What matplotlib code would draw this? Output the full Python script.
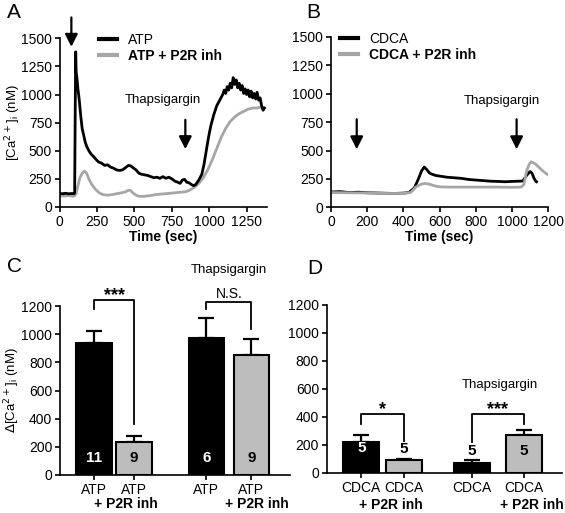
import numpy as np
import matplotlib
matplotlib.use("Agg")
import matplotlib.pyplot as plt
import matplotlib.transforms as mtransforms

plt.rcParams['font.family'] = ['Liberation Sans', 'DejaVu Sans']
plt.rcParams['font.size'] = 10
plt.rcParams['axes.linewidth'] = 1.2
plt.rcParams['xtick.major.width'] = 1.2
plt.rcParams['ytick.major.width'] = 1.2
plt.rcParams['xtick.major.size'] = 3.5
plt.rcParams['ytick.major.size'] = 3.5

# ---- panel A traces (time in sec, [Ca2+]i in nM) ----
atp_t = [0, 20, 40, 60, 80, 95, 100, 104, 107, 110, 115, 122, 130, 140, 150, 160, 170, 180,
         195, 210, 225, 245, 260, 280, 300, 320, 340, 360, 380, 400, 420, 440, 460, 475, 490,
         510, 530, 550, 570, 590, 610, 630, 650, 670, 690, 710, 730, 750, 770, 790, 805, 820,
         835, 850, 865, 880, 895, 910, 930, 950, 965, 980, 995, 1010, 1030, 1050, 1070, 1090,
         1100, 1110, 1120, 1130, 1140, 1150, 1160, 1170, 1180, 1190, 1200, 1210, 1220, 1230,
         1240, 1250, 1260, 1270, 1280, 1290, 1300, 1310, 1320, 1330, 1340, 1350, 1360, 1368]
atp_v = [120, 118, 122, 117, 120, 118, 125, 900, 1380, 1200, 1150, 1050, 960, 820, 700, 640,
         580, 540, 500, 470, 450, 420, 400, 390, 370, 375, 355, 345, 330, 325, 330, 350, 370,
         365, 350, 330, 300, 290, 285, 280, 270, 260, 265, 255, 270, 255, 265, 250, 230, 220,
         210, 240, 245, 220, 215, 200, 190, 200, 240, 290, 380, 500, 620, 720, 820, 900, 950,
         1000, 1040, 1010, 1070, 1040, 1100, 1060, 1150, 1090, 1130, 1060, 1100, 1040, 1080,
         1010, 1050, 1000, 1040, 980, 1030, 970, 1010, 960, 1020, 950, 970, 900, 860, 880]

atp_inh_t = [0, 30, 60, 90, 100, 110, 120, 135, 150, 165, 180, 195, 210, 225, 245, 265, 290,
             320, 350, 380, 410, 440, 460, 475, 490, 510, 530, 560, 600, 640, 680, 720, 760,
             800, 840, 870, 900, 930, 960, 990, 1020, 1050, 1080, 1110, 1140, 1170, 1200, 1230,
             1260, 1290, 1320, 1345, 1360, 1370]
atp_inh_v = [100, 98, 102, 95, 100, 120, 180, 260, 300, 320, 300, 250, 210, 180, 150, 125,
             110, 105, 110, 118, 125, 135, 150, 145, 125, 105, 95, 95, 100, 110, 115, 120, 125,
             130, 135, 150, 175, 210, 260, 330, 420, 520, 620, 700, 760, 800, 830, 850, 870,
             880, 880, 890, 870, 880]

# ---- panel B traces ----
cdca_t = [0, 50, 100, 150, 200, 250, 300, 350, 400, 430, 460, 480, 500, 515, 530, 545, 560,
          580, 600, 640, 680, 720, 760, 800, 840, 880, 920, 960, 1000, 1040, 1060, 1075, 1090,
          1100, 1110, 1120, 1130, 1135]
cdca_v = [135, 138, 130, 133, 128, 126, 124, 122, 125, 130, 170, 240, 320, 355, 330, 300,
          290, 280, 275, 265, 260, 255, 245, 240, 235, 230, 228, 225, 228, 230, 232, 270, 300,
          315, 300, 260, 230, 225]

cdca_inh_t = [0, 100, 200, 300, 400, 440, 470, 500, 520, 540, 570, 600, 650, 700, 800, 900,
              1000, 1050, 1065, 1080, 1095, 1105, 1115, 1130, 1150, 1170, 1190, 1200]
cdca_inh_v = [130, 128, 126, 122, 122, 130, 180, 205, 210, 205, 190, 180, 178, 178, 178, 178,
              176, 178, 200, 320, 380, 400, 395, 380, 350, 320, 295, 285]

# ---- panel C / D bars ----
c_labels = ['ATP', 'ATP', 'ATP', 'ATP']
c_vals = [940, 235, 975, 850]
c_err = [85, 40, 140, 115]
c_n = ['11', '9', '6', '9']

d_labels = ['CDCA', 'CDCA', 'CDCA', 'CDCA']
d_vals = [220, 90, 75, 275]
d_err = [50, 12, 15, 30]
d_n = ['5', '5', '5', '5']

black = '#000000'
grey_line = '#a6a6a6'
grey_bar = '#bdbdbd'

fig = plt.figure(figsize=(5.65, 5.13), dpi=100)
W, H = 565.0, 513.0


def px_axes(l, r, b, t):
    return fig.add_axes([l / W, (H - b) / H, (r - l) / W, (b - t) / H])


def style(ax):
    ax.spines['top'].set_visible(False)
    ax.spines['right'].set_visible(False)
    ax.tick_params(direction='out', labelsize=10, pad=2)


arrow = dict(arrowstyle='-|>,head_width=0.38,head_length=0.75', color='k', lw=1.6)

# ================= A =================
axA = px_axes(59.7, 267.3, 207, 38.3)
style(axA)
axA.plot(atp_inh_t, atp_inh_v, color=grey_line, lw=2, label='ATP + P2R inh')
axA.plot(atp_t, atp_v, color=black, lw=2, label='ATP')
axA.set_xlim(0, 1388)
axA.set_ylim(0, 1500)
axA.set_xticks(np.arange(0, 1251, 250))
axA.set_yticks(np.arange(0, 1501, 250))
axA.set_xlabel('Time (sec)', fontweight='bold', labelpad=1)
axA.set_ylabel('[Ca$^{2+}$]$_{\\mathregular{i}}$ (nM)', fontsize=9.5)
axA.yaxis.set_label_coords(-0.178, 0.5)
h, l = axA.get_legend_handles_labels()
leg = axA.legend(h[::-1], l[::-1], loc='upper left', bbox_to_anchor=(0.19, 1.03),
                 frameon=False, handlelength=1.3, handletextpad=0.8, labelspacing=0.15,
                 borderpad=0, borderaxespad=0, fontsize=10)
for line in leg.get_lines():
    line.set_linewidth(3)
leg.get_texts()[1].set_fontweight('bold')
axA.annotate('', xy=(78, 1400), xytext=(78, 1710), annotation_clip=False, arrowprops=arrow)
axA.annotate('', xy=(840, 490), xytext=(840, 800), arrowprops=arrow)
axA.text(690, 950, 'Thapsigargin', ha='center', va='center', fontsize=9.5)

# ================= B =================
axB = px_axes(331, 548.3, 207.3, 37)
style(axB)
axB.plot(cdca_t, cdca_v, color=black, lw=2, label='CDCA')
axB.plot(cdca_inh_t, cdca_inh_v, color=grey_line, lw=2, label='CDCA + P2R inh')
axB.set_xlim(0, 1200)
axB.set_ylim(0, 1500)
axB.set_xticks(np.arange(0, 1201, 200))
axB.set_yticks(np.arange(0, 1501, 250))
axB.set_xlabel('Time (sec)', fontweight='bold', labelpad=1)
leg = axB.legend(loc='upper left', bbox_to_anchor=(0.04, 1.03),
                 frameon=False, handlelength=1.3, handletextpad=0.8, labelspacing=0.15,
                 borderpad=0, borderaxespad=0, fontsize=10)
for line in leg.get_lines():
    line.set_linewidth(3)
leg.get_texts()[1].set_fontweight('bold')
for t in [142, 1025]:
    axB.annotate('', xy=(t, 487), xytext=(t, 800), arrowprops=arrow)
axB.text(943, 940, 'Thapsigargin', ha='center', va='center', fontsize=9.5)


# ================= C / D =================
def bars(ax, pos, vals, err, labels, n, n_y, n_col, sub_dx, sub_y, width):
    cols = [black, grey_bar, black, grey_bar]
    ax.bar(pos, vals, width=width, color=cols, edgecolor='k', linewidth=1.5, zorder=2)
    ax.errorbar(pos, vals, yerr=[[0] * len(vals), err], fmt='none', ecolor='k',
                elinewidth=1.6, capsize=6, capthick=1.6, zorder=1)
    ax.set_xticks(pos)
    ax.set_xticklabels(labels, fontsize=10)
    trans = mtransforms.blended_transform_factory(ax.transData, ax.transAxes)
    for i in (1, 3):
        ax.text(pos[i] + sub_dx[i], sub_y, '+ P2R inh', transform=trans, ha='center',
                va='center', fontsize=10, fontweight='bold')
    for p, s, y, c in zip(pos, n, n_y, n_col):
        ax.text(p, y, s, ha='center', va='center', color=c, fontsize=11, fontweight='bold', zorder=3)
    ax.set_ylim(0, 1200)
    ax.set_yticks(np.arange(0, 1201, 200))


def bracket(ax, x1, x2, top, y1, y2, label, ly, size=13, weight='bold'):
    ax.plot([x1, x1, x2, x2], [y1, top, top, y2], color='k', lw=1.3, clip_on=False)
    ax.text((x1 + x2) / 2, ly, label, ha='center', va='center', fontsize=size,
            fontweight=weight, clip_on=False)


c_pos = [34.2, 73.8, 146.3, 191.3]
axC = px_axes(60, 290, 475, 306)
style(axC)
bars(axC, c_pos, c_vals, c_err, c_labels, c_n, [120] * 4, ['w', 'k', 'w', 'k'],
     [0, -8, 0, 6], -0.172, 35.5)
axC.set_xlim(0, 230)
axC.set_ylabel('$\\Delta$[Ca$^{2+}$]$_{\\mathregular{i}}$ (nM)', fontsize=9.5)
axC.yaxis.set_label_coords(-0.165, 0.5)
bracket(axC, c_pos[0], c_pos[1], 1242, 1176, 364, '***', 1275)
bracket(axC, c_pos[2], c_pos[3], 1231, 1176, 1037, 'N.S.', 1285, size=10, weight='normal')
axC.text((c_pos[2] + c_pos[3]) / 2, 1455, 'Thapsigargin', ha='center', va='center', fontsize=9.5)

d_pos = [34.6, 77.0, 145.0, 197.5]
axD = px_axes(326.7, 561.7, 473, 305)
style(axD)
bars(axD, d_pos, d_vals, d_err, d_labels, d_n, [180, 171, 155, 155], ['w', 'k', 'k', 'k'],
     [0, -13, 0, 8], -0.19, 36)
axD.set_xlim(0, 235)
bracket(axD, d_pos[0], d_pos[1], 420, 352, 226, '*', 455)
bracket(axD, d_pos[2], d_pos[3], 420, 219, 352, '***', 455)
axD.text(173.3, 630, 'Thapsigargin', ha='center', va='center', fontsize=9.5)

# panel letters
for s, x, y in [('A', 14, 12), ('B', 313, 12), ('C', 14, 267), ('D', 315, 268)]:
    fig.text(x / W, 1 - y / H, s, fontsize=15, ha='center', va='center')

fig.savefig('out.png', dpi=100)
